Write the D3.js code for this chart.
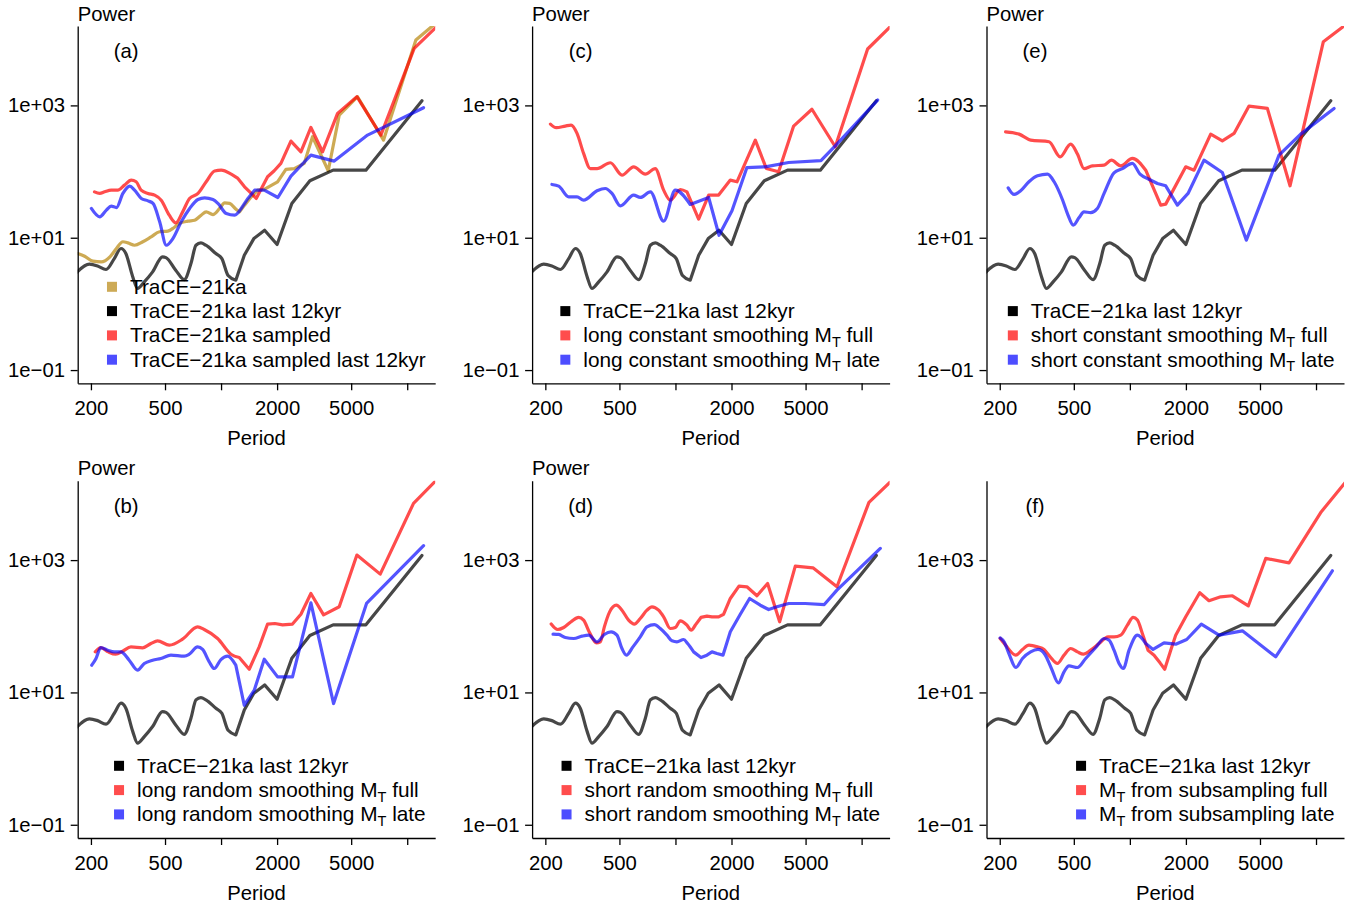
<!DOCTYPE html>
<html><head><meta charset="utf-8">
<script src="https://cdn.jsdelivr.net/npm/d3@7"></script>
<style>body{margin:0;background:#fff}</style>
</head><body>
<svg id="c" width="1358" height="907" xmlns="http://www.w3.org/2000/svg"></svg>
<script>
// ---- axis ticks ----
const periodTicks = [200, 500, 1000, 2000, 5000, 10000];
const periodTickLabels = ["200", "500", "", "2000", "5000", ""];
const powerTicks = [0.1, 10, 1000];
const powerTickLabels = ["1e\u221201", "1e+01", "1e+03"];
const xlim = [200, 12000];
const ylim = [0.1, 10000];
const panelLabels = ["(a)", "(b)", "(c)", "(d)", "(e)", "(f)"];

// ---- series: [period, power] ----
const trace12 = [[168,3.0],[196,3.98],[217,3.75],[241,3.31],[267,4.84],[290,6.87],[308,5.77],[335,2.6],[356,1.71],[387,2.15],[429,3.05],[485,5.14],[506,5.0],[572,3.2],[634,2.33],[689,4.07],[733,7.7],[779,8.36],[829,7.7],[938,5.77],[1010,4.84],[1091,2.68],[1200,2.28],[1333,5.44],[1500,9.7],[1714,13.0],[2000,7.9],[2400,32.9],[3000,72.5],[4000,105],[6000,105],[12000,1177]];

const trace21 = [[170,5.77],[185,5.26],[205,4.42],[227,4.31],[253,5.14],[274,6.87],[297,8.7],[316,8.36],[343,7.7],[380,8.7],[421,10.3],[467,12.3],[518,12.6],[560,14.3],[596,16.4],[663,17.8],[721,18.4],[782,21.9],[832,24.6],[904,22.4],[982,27.7],[1045,33.7],[1111,33.0],[1207,26.7],[1257,24.6],[1337,31.1],[1453,41.5],[1574,52.4],[1706,53.6],[2012,70.1],[2230,108],[2472,111],[2798,133],[3100,336],[3765,103],[4313,714],[5409,1353],[7463,299],[11130,9750],[21000,44000]];

const traceSampled = [[209,49.4],[223,46.7],[237,49.4],[257,52.4],[279,52.4],[303,62.4],[329,74.3],[350,70.1],[372,52.4],[405,46.7],[440,44.1],[477,37.0],[527,21.9],[572,16.8],[622,24.6],[677,39.2],[752,46.7],[832,70.1],[923,102],[1002,105],[1134,91.4],[1232,78.7],[1337,58.9],[1453,46.7],[1545,39.2],[1778,83.4],[1930,103],[2096,133],[2373,289],[2685,199],[3038,465],[3508,199],[4225,757],[5366,1353],[7220,356],[10900,7280],[21000,43000]];

const traceSampled12 = [[201,27.7],[223,20.7],[242,26.1],[257,30.0],[274,28.6],[297,46.7],[323,60.2],[343,52.4],[373,39.2],[405,36.1],[431,33.0],[468,17.4],[508,7.7],[551,9.7],[611,17.4],[678,27.7],[751,37.8],[816,40.1],[904,37.8],[962,33.0],[1067,23.2],[1182,21.9],[1284,27.7],[1394,39.2],[1514,52.4],[1706,52.4],[2020,40.6],[2373,85.3],[3038,177],[4055,144],[6124,356],[12240,923]];

const longRandFull = [[211,41.0],[226,47.7],[248,41.0],[272,37.8],[296,42.0],[328,48.8],[379,47.2],[420,54.8],[456,60.2],[527,51.8],[621,63.8],[748,98.0],[812,89.3],[958,65.3],[1130,37.8],[1252,33.7],[1417,22.4],[1603,48.8],[1778,108],[1946,110],[2140,105],[2420,108],[2685,152],[3038,313],[3554,149],[4313,197],[5366,1190],[7160,614],[10810,7200],[21000,48000]];

const longRandLate = [[202,25.8],[213,32.6],[226,47.7],[246,43.5],[267,41.0],[290,41.0],[321,30.7],[356,21.7],[387,27.4],[429,30.7],[475,32.6],[538,36.6],[634,35.3],[675,37.8],[748,48.8],[796,44.6],[864,29.0],[919,23.0],[998,31.4],[1084,35.3],[1200,25.8],[1332,6.40],[1508,10.8],[1706,31.8],[2012,17.2],[2420,17.2],[3038,226],[4022,6.79],[6046,221],[12240,1648]];

const longConstFull = [[213,522],[229,460],[256,487],[275,504],[296,377],[321,188],[349,111],[379,111],[447,136],[516,88.3],[596,118],[689,91.4],[779,111],[864,52.4],[938,37.0],[1062,53.6],[1153,49.4],[1332,19.1],[1508,44.1],[1706,44.1],[1971,74.3],[2140,70.1],[2685,299],[3076,111.5],[3583,99.2],[4313,487],[5409,875],[7220,237],[10770,7120],[21000,45300]];

const longConstLate = [[217,63.8],[236,60.2],[267,41.5],[296,41.5],[321,37.0],[379,51.2],[420,55.5],[456,46.7],[506,30.3],[596,44.1],[647,40.6],[733,49.4],[864,17.8],[998,52.4],[1200,31.8],[1508,40.6],[1714,10.9],[2012,25.5],[2420,115],[3038,118],[4055,137],[6046,146],[7370,260],[12190,1205]];

const shortRandFull = [[215,108],[233,89.3],[251,95.8],[275,117],[302,136],[321,124],[346,79.6],[376,56.1],[395,58.2],[415,98.0],[443,165],[481,208],[516,175],[560,124],[601,108],[647,131],[703,175],[748,197],[812,175],[864,139],[938,92.5],[998,95.8],[1062,121],[1153,104],[1212,87.3],[1278,104],[1371,136],[1476,142],[1571,139],[1706,139],[1815,152],[1971,263],[2194,404],[2420,395],[2740,289],[3126,444],[3628,117],[4403,811],[5478,765],[7370,395],[10950,7460],[21000,43000]];

const shortRandLate = [[220,76.0],[236,75.2],[256,67.7],[284,65.3],[315,70.9],[342,73.4],[379,58.2],[415,75.2],[451,82.4],[485,73.4],[516,46.1],[545,36.6],[591,48.8],[647,69.2],[703,98.0],[770,106],[829,92.5],[900,73.4],[958,60.2],[1019,58.2],[1107,63.1],[1162,54.8],[1252,41.0],[1371,33.7],[1476,36.6],[1571,41.0],[1671,38.7],[1800,36.6],[1971,82.4],[2230,152],[2502,263],[2856,208],[3166,179],[3508,197],[4055,221],[4982,221],[6302,213],[7370,352],[12600,1503]];

const shortConstFull = [[215,399],[254,368],[293,299],[368,282],[422,167],[481,260],[523,184],[567,111],[629,122],[727,125],[796,149],[893,122],[1032,158],[1217,105],[1465,31.1],[1558,32.2],[1996,118],[2212,105],[2718,368],[3140,292],[3628,377],[4366,977],[5478,901],[7250,60.9],[10950,9180],[21000,36900]];

const shortConstLate = [[222,56.8],[239,45.1],[259,51.2],[287,70.1],[319,86.3],[361,91.4],[392,70.1],[434,37.8],[462,23.2],[497,15.5],[534,20.2],[567,24.6],[616,24.0],[669,27.7],[727,46.7],[822,95.8],[912,111],[1032,133],[1134,91.4],[1242,78.7],[1406,66.1],[1558,60.9],[1800,31.1],[2054,46.7],[2502,149],[3140,96.9],[4225,9.18],[6328,177],[8272,368],[12500,901]];

const subFull = [[201,65.3],[215,51.8],[244,36.6],[265,44.6],[287,51.8],[319,48.8],[346,44.6],[373,34.5],[408,27.4],[443,36.6],[481,46.1],[523,41.0],[563,37.8],[616,43.5],[683,54.8],[764,69.2],[822,69.2],[893,73.4],[970,104],[1041,136],[1098,124],[1167,77.8],[1252,43.5],[1349,36.6],[1452,28.0],[1539,22.4],[1658,43.5],[1763,73.4],[1996,139],[2373,321],[2662,243],[3076,279],[3554,289],[4330,204],[5366,1060],[7160,910],[10680,5390],[21000,55000]];

const subLate = [[201,66.8],[211,58.2],[224,38.7],[244,23.8],[265,32.6],[293,41.0],[321,44.6],[349,37.8],[379,23.0],[413,13.9],[443,20.5],[471,25.2],[523,23.8],[579,32.6],[656,47.7],[727,65.3],[773,61.6],[822,43.5],[875,27.4],[923,23.0],[990,43.5],[1098,73.4],[1217,54.8],[1332,44.6],[1526,56.1],[1763,53.6],[2020,63.1],[2420,108],[3014,73.4],[4022,85.3],[6072,34.5],[12240,690]];

// ---- style ----
const FONT = "'Liberation Sans', Arial, Helvetica, sans-serif";
const FS = 20.3, FSL = 20.8;
const LINE = {gold:"rgba(184,134,11,0.7)", black:"rgba(0,0,0,0.72)", red:"rgba(255,0,0,0.7)", blue:"rgba(0,0,255,0.67)"};
const SQUARE = {gold:"#cdaa56", black:"#000000", red:"#ff4d4d", blue:"#4d4dff"};
const colLeft = [77.7, 532.1, 986.5], rowTop = [26, 480.7];
const PW = 357.5, PH = 357.3;
const SMOOTH_BELOW = 1300; // densely sampled part of the spectra drawn smooth

const L12 = "TraCE\u221221ka last 12kyr";
const panels = [
  {label:panelLabels[0], col:0, row:0, power:true, series:[
    {d:trace21, c:"gold", name:"TraCE\u221221ka"},
    {d:trace12, c:"black", name:L12},
    {d:traceSampled, c:"red", name:"TraCE\u221221ka sampled"},
    {d:traceSampled12, c:"blue", name:"TraCE\u221221ka sampled last 12kyr"}]},
  {label:panelLabels[1], col:0, row:1, power:true, series:[
    {d:trace12, c:"black", name:L12},
    {d:longRandFull, c:"red", name:"long random smoothing M_T full"},
    {d:longRandLate, c:"blue", name:"long random smoothing M_T late"}]},
  {label:panelLabels[2], col:1, row:0, power:true, series:[
    {d:trace12, c:"black", name:L12},
    {d:longConstFull, c:"red", name:"long constant smoothing M_T full"},
    {d:longConstLate, c:"blue", name:"long constant smoothing M_T late"}]},
  {label:panelLabels[3], col:1, row:1, power:true, series:[
    {d:trace12, c:"black", name:L12},
    {d:shortRandFull, c:"red", name:"short random smoothing M_T full"},
    {d:shortRandLate, c:"blue", name:"short random smoothing M_T late"}]},
  {label:panelLabels[4], col:2, row:0, power:true, series:[
    {d:trace12, c:"black", name:L12},
    {d:shortConstFull, c:"red", name:"short constant smoothing M_T full"},
    {d:shortConstLate, c:"blue", name:"short constant smoothing M_T late"}]},
  {label:panelLabels[5], col:2, row:1, power:false, series:[
    {d:trace12, c:"black", name:L12},
    {d:subFull, c:"red", name:"M_T from subsampling full"},
    {d:subLate, c:"blue", name:"M_T from subsampling late"}]}
];

const svg = d3.select("#c");
svg.append("rect").attr("width",1358).attr("height",907).attr("fill","#fff");

function expand(lim){
  const a=Math.log10(lim[0]), b=Math.log10(lim[1]), e=0.04*(b-a);
  return [10**(a-e), 10**(b+e)];
}

panels.forEach((p,i)=>{
  const x0=colLeft[p.col], y0=rowTop[p.row];
  const x=d3.scaleLog().domain(expand(xlim)).range([x0,x0+PW]);
  const y=d3.scaleLog().domain(expand(ylim)).range([y0+PH,y0]);
  const g=svg.append("g");
  const cid="clip"+i;
  svg.append("clipPath").attr("id",cid).append("rect")
    .attr("x",x0).attr("y",y0).attr("width",PW).attr("height",PH);

  const smooth=d3.line().x(d=>x(d[0])).y(d=>y(d[1])).curve(d3.curveMonotoneX);
  const lin=d3.line().x(d=>x(d[0])).y(d=>y(d[1]));
  const lg=g.append("g").attr("clip-path",`url(#${cid})`);
  p.series.forEach(s=>{
    let k=0; while(k<s.d.length-1 && s.d[k+1][0]<=SMOOTH_BELOW) k++;
    const a=s.d.slice(0,k+1), b=s.d.slice(k);
    let path=smooth(a);
    if(b.length>1) path+=lin(b).replace(/^M/,"L");
    lg.append("path").attr("d",path).attr("fill","none")
      .attr("stroke",LINE[s.c]).attr("stroke-width",3.2)
      .attr("stroke-linejoin","round").attr("stroke-linecap","round");
  });

  // axes
  const ax=g.append("g").attr("transform",`translate(0,${y0+PH})`)
    .call(d3.axisBottom(x).tickValues(periodTicks)
      .tickFormat((d,k)=>periodTickLabels[k]).tickSize(7).tickSizeOuter(0).tickPadding(10.3));
  const ay=g.append("g").attr("transform",`translate(${x0},0)`)
    .call(d3.axisLeft(y).tickValues(powerTicks)
      .tickFormat((d,k)=>powerTickLabels[k]).tickSize(7).tickSizeOuter(0).tickPadding(5.7));
  [ax,ay].forEach(a=>{
    a.attr("font-family",FONT).attr("font-size",FS);
    a.selectAll("path,line").attr("stroke","#000").attr("stroke-width",1.3);
    a.selectAll("text").attr("fill","#000");
  });

  // titles
  g.append("text").attr("x",x0+PW/2).attr("y",y0+PH+61.7).attr("text-anchor","middle")
    .attr("font-family",FONT).attr("font-size",FS).text("Period");
  if(p.power) g.append("text").attr("x",x0).attr("y",y0-5.5)
    .attr("font-family",FONT).attr("font-size",FS).text("Power");
  g.append("text").attr("x",x0+48.5).attr("y",y0+32).attr("text-anchor","middle")
    .attr("font-family",FONT).attr("font-size",FS).text(p.label);

  // legend
  const n=p.series.length;
  const items=p.series.map((s,k)=>{
    const cy=y0+PH-23.6-(n-1-k)*24.3;
    const t=g.append("text").attr("y",cy+7).attr("font-family",FONT).attr("font-size",FSL);
    const parts=s.name.split("M_T");
    if(parts.length===1){ t.text(s.name); }
    else {
      t.append("tspan").text(parts[0]+"M");
      t.append("tspan").attr("font-size",FSL*0.7).attr("dy",4.5).text("T");
      t.append("tspan").attr("dy",-4.5).text(parts[1]);
    }
    return {t,cy,c:s.c};
  });
  const maxW=d3.max(items,it=>it.t.node().getComputedTextLength());
  const tx=x0+PW-9.5-maxW;
  items.forEach(it=>{
    it.t.attr("x",tx);
    it.t.selectAll("tspan").filter((d,k)=>k===0).attr("x",tx);
    g.append("rect").attr("x",tx-23).attr("y",it.cy-5).attr("width",10).attr("height",10)
      .attr("fill",SQUARE[it.c]);
  });
});
</script>
</body></html>
